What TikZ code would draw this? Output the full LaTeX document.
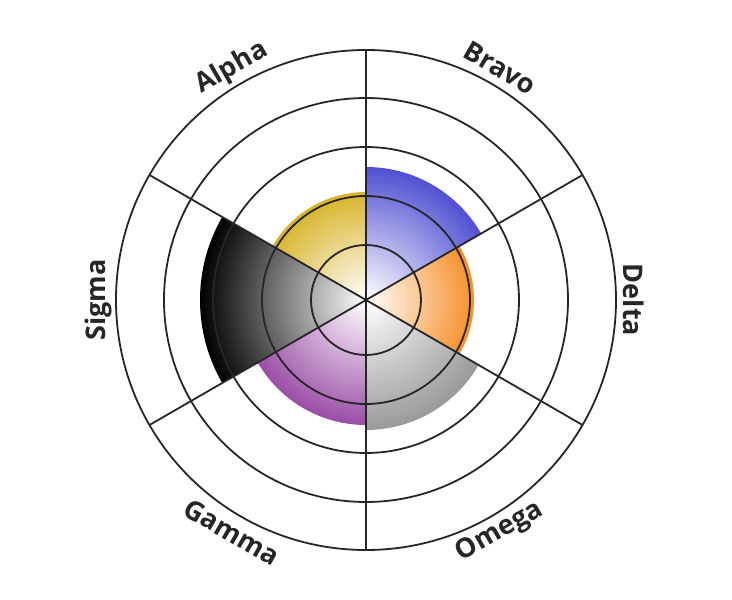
\documentclass[tikz,border=0pt]{standalone}
\usepackage{fontspec}
\setmainfont{Open Sans}
\definecolor{cblue}{HTML}{5050D2}
\definecolor{cgold}{HTML}{D8B52C}
\definecolor{corange}{HTML}{F5902A}
\definecolor{cgray}{HTML}{999999}
\definecolor{cpurple}{HTML}{9A4DA6}
\begin{document}
\begin{tikzpicture}[x=1pt,y=1pt,
  ring/.style={draw=black!85,line width=1.8pt},
  lbl/.style={font=\fontsize{27}{27}\selectfont\bfseries,text=black!85}]
\useasboundingbox (-366,-300) rectangle (366,300);
\coordinate (O) at (0,0);
\foreach \a/\b/\r/\c in {30/90/133/cblue, -30/30/108/corange, -90/-30/130/cgray, -150/-90/125/cpurple, 150/210/166/black, 90/150/108/cgold}{
  \begin{scope}
    \clip (O) -- (\a:\r) arc (\a:\b:\r) -- cycle;
    \shade[inner color=white, outer color=\c] (O) circle (\r);
  \end{scope}
}
\foreach \r in {55,104,153,202,250} \draw[ring] (O) circle (\r);
\foreach \a in {30,90,150,210,270,330} \draw[ring] (O) -- (\a:250);
\node[lbl,rotate=30] (a) at (120:268) {Alpha};
\node[lbl,rotate=-30] (b) at (60:268) {Bravo};
\node[lbl,rotate=-90] (d) at (0:268) {Delta};
\node[lbl,rotate=30] (o) at (-60:268) {Omega};
\node[lbl,rotate=-30] (g) at (-120:268) {Gamma};
\node[lbl,rotate=90] (s) at (180:268) {Sigma};
\end{tikzpicture}
\end{document}
